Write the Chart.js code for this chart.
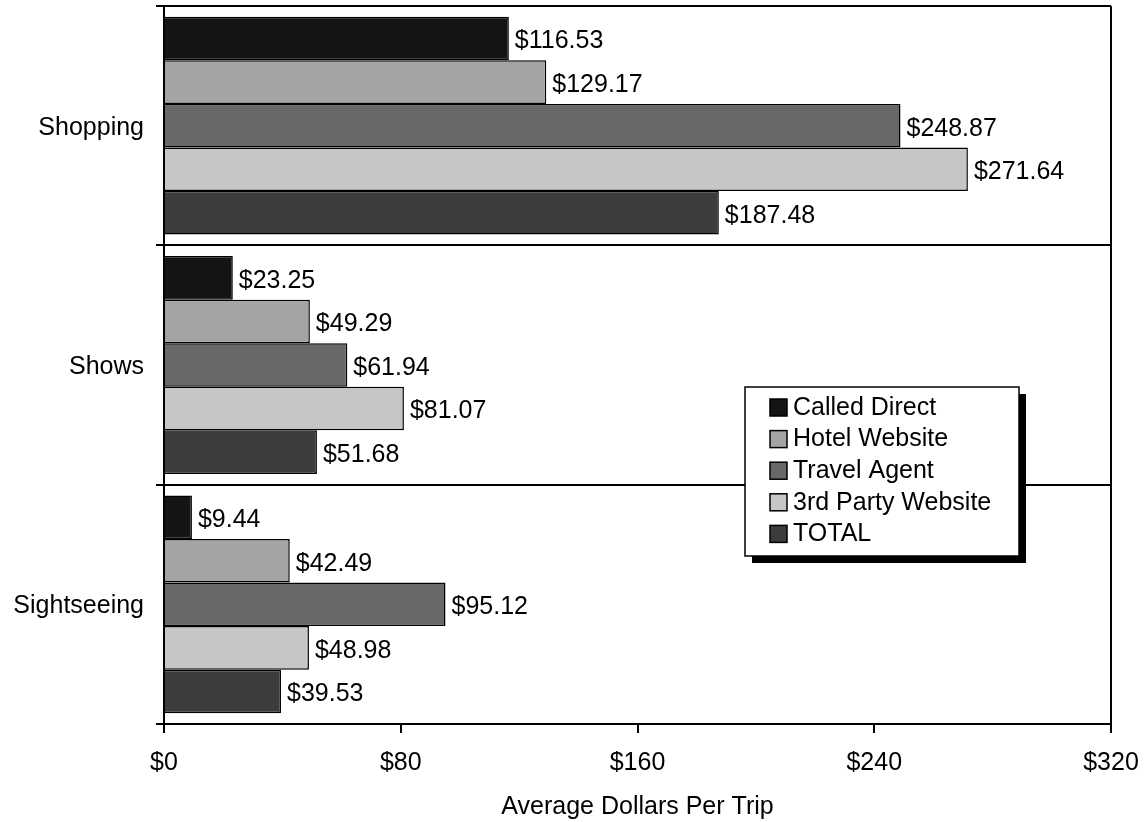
<!DOCTYPE html>
<html>
<head>
<meta charset="utf-8">
<script src="https://cdn.jsdelivr.net/npm/chart.js@4"></script>
<style>
  html, body { margin: 0; padding: 0; background: #fff; }
  #wrap { width: 1148px; height: 822px; position: relative; }
</style>
</head>
<body>
<div id="wrap"><canvas id="chart"></canvas></div>
<script>
const categories = ['Shopping', 'Shows', 'Sightseeing'];
const seriesNames = ['Called Direct', 'Hotel Website', 'Travel Agent', '3rd Party Website', 'TOTAL'];
const calledDirect = [116.53, 23.25, 9.44];
const hotelWebsite = [129.17, 49.29, 42.49];
const travelAgent = [248.87, 61.94, 95.12];
const thirdParty = [271.64, 81.07, 48.98];
const total = [187.48, 51.68, 39.53];
const xTicks = [0, 80, 160, 240, 320];

const fills = ['#141414', '#a4a4a4', '#686868', '#c6c6c6', '#3c3c3c'];
const seriesValues = [calledDirect, hotelWebsite, travelAgent, thirdParty, total];

const FONT = "'Liberation Sans', Arial, sans-serif";
Chart.defaults.font.family = FONT;
Chart.defaults.font.size = 25;
Chart.defaults.color = '#000';

const money = v => '$' + v.toFixed(2);

// value labels just past the end of each bar
const valueLabels = {
  id: 'valueLabels',
  afterDatasetsDraw(chart) {
    const ctx = chart.ctx;
    ctx.save();
    ctx.font = '25px ' + FONT;
    ctx.fillStyle = '#000';
    ctx.textAlign = 'left';
    ctx.textBaseline = 'middle';
    chart.data.datasets.forEach((ds, i) => {
      chart.getDatasetMeta(i).data.forEach((bar, j) => {
        ctx.fillText(money(ds.data[j]), bar.x + 6, bar.y + 3);
      });
    });
    ctx.restore();
  }
};

// boxed legend with a drop shadow
const shadowLegend = {
  id: 'shadowLegend',
  afterDraw(chart) {
    const ctx = chart.ctx;
    const x = 745, y = 387, w = 274, h = 169;
    ctx.save();
    ctx.fillStyle = '#000';
    ctx.fillRect(x + 7, y + 7, w, h);
    ctx.fillStyle = '#fff';
    ctx.fillRect(x, y, w, h);
    ctx.strokeStyle = '#000';
    ctx.lineWidth = 1.5;
    ctx.strokeRect(x, y, w, h);
    ctx.font = '25px ' + FONT;
    ctx.textAlign = 'left';
    ctx.textBaseline = 'middle';
    chart.data.datasets.forEach((ds, i) => {
      const cy = y + 20 + i * 31.6;
      ctx.fillStyle = ds.backgroundColor;
      ctx.fillRect(770, cy - 8, 17, 17);
      ctx.strokeRect(770, cy - 8, 17, 17);
      ctx.fillStyle = '#000';
      ctx.fillText(ds.label, 793, cy + 1);
    });
    ctx.restore();
  }
};

new Chart(document.getElementById('chart'), {
  type: 'bar',
  data: {
    labels: categories,
    datasets: seriesNames.map((name, i) => ({
      label: name,
      data: seriesValues[i],
      backgroundColor: fills[i],
      borderColor: '#000',
      borderWidth: 1.5,
      barPercentage: 1,
      categoryPercentage: 0.91,
    }))
  },
  options: {
    indexAxis: 'y',
    responsive: true,
    maintainAspectRatio: false,
    animation: false,
    layout: { padding: { top: 6, right: 37, left: 0, bottom: 0 } },
    plugins: {
      legend: { display: false },
      tooltip: { enabled: false }
    },
    scales: {
      x: {
        min: 0,
        max: 320,
        afterBuildTicks: axis => { axis.ticks = xTicks.map(v => ({ value: v })); },
        afterFit: axis => {
          axis.height = 98;
          axis.paddingLeft = 0;
          axis.paddingRight = 0;
        },
        ticks: {
          padding: 15,
          callback: v => '$' + v,
          font: { size: 25 }
        },
        grid: {
          color: ctx => (ctx.tick && ctx.tick.value === 320 ? '#000' : 'rgba(0,0,0,0)'),
          tickColor: '#000',
          lineWidth: 2,
          tickLength: 9
        },
        border: { display: true, color: '#000', width: 2 },
        title: {
          display: true,
          text: 'Average Dollars Per Trip',
          font: { size: 25 },
          padding: { top: 0, bottom: 0 }
        }
      },
      y: {
        afterFit: axis => {
          axis.width = 164;
          axis.paddingTop = 0;
          axis.paddingBottom = 0;
        },
        ticks: { padding: 12, labelOffset: 2, font: { size: 25 } },
        grid: {
          color: '#000',
          lineWidth: 2,
          tickLength: 8
        },
        border: { display: true, color: '#000', width: 2 }
      }
    }
  },
  plugins: [valueLabels, shadowLegend]
});
</script>
</body>
</html>
